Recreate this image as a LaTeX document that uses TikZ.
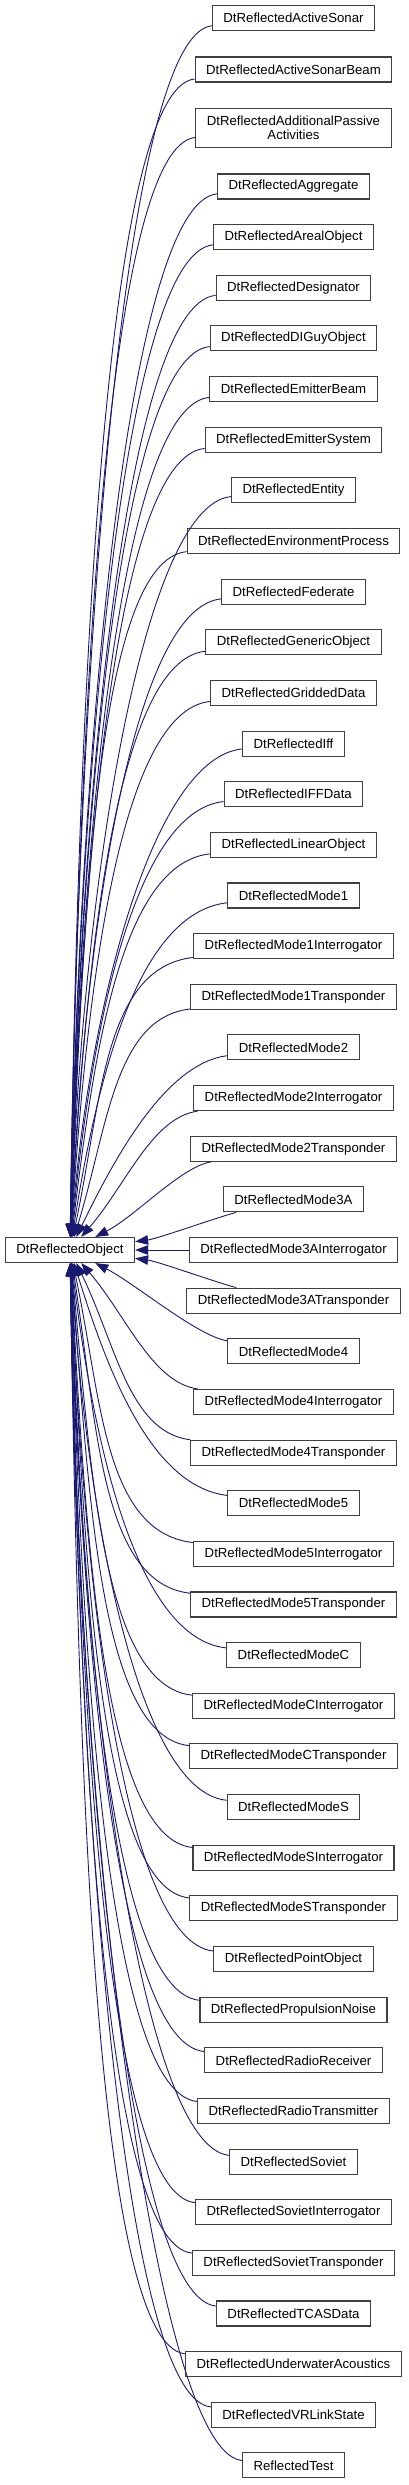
\documentclass[tikz,border=0pt]{standalone}
\usepackage{fontspec}
\setmainfont{Liberation Sans}
\usetikzlibrary{arrows.meta, calc}
\definecolor{edgeblue}{HTML}{191970}
\definecolor{boxgray}{HTML}{404040}

\begin{document}
\begin{tikzpicture}[x=1pt, y=1pt, font=\fontsize{13.2}{14.5}\selectfont,
		classbox/.style={draw=boxgray, line width=1.1pt, fill=white, inner xsep=11pt, inner ysep=4pt, minimum height=25pt, align=center},
		inherit/.style={draw=edgeblue, line width=0.9pt, {Triangle[length=13pt,width=9.5pt]}-}]
	\useasboundingbox (0,0) rectangle (408,-2485);

	\node at (70,-1250) [classbox] (reflObject) {DtReflectedObject};

	\node at (293.5,-18) [classbox] (activeSonar) {DtReflectedActiveSonar};
	\node at (293.5,-69.5) [classbox] (activeSonarBeam) {DtReflectedActiveSonarBeam};
	\node at (293.5,-128) [classbox, minimum height=39pt] (additionalPassive) {DtReflectedAdditionalPassive\\Activities};
	\node at (293.5,-186.5) [classbox] (aggregate) {DtReflectedAggregate};
	\node at (293.5,-237.1) [classbox] (arealObject) {DtReflectedArealObject};
	\node at (293.5,-287.8) [classbox] (designator) {DtReflectedDesignator};
	\node at (293.5,-338.4) [classbox] (diGuyObject) {DtReflectedDIGuyObject};
	\node at (293.5,-389.1) [classbox] (emitterBeam) {DtReflectedEmitterBeam};
	\node at (293.5,-439.7) [classbox] (emitterSystem) {DtReflectedEmitterSystem};
	\node at (293.5,-490.4) [classbox] (entity) {DtReflectedEntity};
	\node at (293.5,-541.0) [classbox] (environmentProcess) {DtReflectedEnvironmentProcess};
	\node at (293.5,-591.6) [classbox] (federate) {DtReflectedFederate};
	\node at (293.5,-642.3) [classbox] (genericObject) {DtReflectedGenericObject};
	\node at (293.5,-692.9) [classbox] (griddedData) {DtReflectedGriddedData};
	\node at (293.5,-743.6) [classbox] (iff) {DtReflectedIff};
	\node at (293.5,-794.2) [classbox] (iffData) {DtReflectedIFFData};
	\node at (293.5,-844.9) [classbox] (linearObject) {DtReflectedLinearObject};
	\node at (293.5,-895.5) [classbox] (mode1) {DtReflectedMode1};
	\node at (293.5,-946.1) [classbox] (mode1Interrogator) {DtReflectedMode1Interrogator};
	\node at (293.5,-996.8) [classbox] (mode1Transponder) {DtReflectedMode1Transponder};
	\node at (293.5,-1047.4) [classbox] (mode2) {DtReflectedMode2};
	\node at (293.5,-1098.1) [classbox] (mode2Interrogator) {DtReflectedMode2Interrogator};
	\node at (293.5,-1148.7) [classbox] (mode2Transponder) {DtReflectedMode2Transponder};
	\node at (293.5,-1199.4) [classbox] (mode3A) {DtReflectedMode3A};
	\node at (293.5,-1250) [classbox] (mode3AInterrogator) {DtReflectedMode3AInterrogator};
	\node at (293.5,-1300.6) [classbox] (mode3ATransponder) {DtReflectedMode3ATransponder};
	\node at (293.5,-1351.3) [classbox] (mode4) {DtReflectedMode4};
	\node at (293.5,-1401.9) [classbox] (mode4Interrogator) {DtReflectedMode4Interrogator};
	\node at (293.5,-1452.6) [classbox] (mode4Transponder) {DtReflectedMode4Transponder};
	\node at (293.5,-1503.2) [classbox] (mode5) {DtReflectedMode5};
	\node at (293.5,-1553.9) [classbox] (mode5Interrogator) {DtReflectedMode5Interrogator};
	\node at (293.5,-1604.5) [classbox] (mode5Transponder) {DtReflectedMode5Transponder};
	\node at (293.5,-1655.1) [classbox] (modeC) {DtReflectedModeC};
	\node at (293.5,-1705.8) [classbox] (modeCInterrogator) {DtReflectedModeCInterrogator};
	\node at (293.5,-1756.4) [classbox] (modeCTransponder) {DtReflectedModeCTransponder};
	\node at (293.5,-1807.1) [classbox] (modeS) {DtReflectedModeS};
	\node at (293.5,-1857.7) [classbox] (modeSInterrogator) {DtReflectedModeSInterrogator};
	\node at (293.5,-1908.4) [classbox] (modeSTransponder) {DtReflectedModeSTransponder};
	\node at (293.5,-1959.0) [classbox] (pointObject) {DtReflectedPointObject};
	\node at (293.5,-2009.6) [classbox] (propulsionNoise) {DtReflectedPropulsionNoise};
	\node at (293.5,-2060.3) [classbox] (radioReceiver) {DtReflectedRadioReceiver};
	\node at (293.5,-2110.9) [classbox] (radioTransmitter) {DtReflectedRadioTransmitter};
	\node at (293.5,-2161.6) [classbox] (soviet) {DtReflectedSoviet};
	\node at (293.5,-2212.2) [classbox] (sovietInterrogator) {DtReflectedSovietInterrogator};
	\node at (293.5,-2262.9) [classbox] (sovietTransponder) {DtReflectedSovietTransponder};
	\node at (293.5,-2313.5) [classbox] (tcasData) {DtReflectedTCASData};
	\node at (293.5,-2364.2) [classbox] (underwaterAcoustics) {DtReflectedUnderwaterAcoustics};
	\node at (293.5,-2414.8) [classbox] (vrLinkState) {DtReflectedVRLinkState};
	\node at (293.5,-2465.4) [classbox] (reflectedTest) {ReflectedTest};

	\foreach \child in {activeSonar, activeSonarBeam, additionalPassive, aggregate, arealObject,
			designator, diGuyObject, emitterBeam, emitterSystem, entity, environmentProcess,
			federate, genericObject, griddedData, iff, iffData, linearObject,
			mode1, mode1Interrogator, mode1Transponder, mode2, mode2Interrogator, mode2Transponder,
			mode3A, mode3ATransponder, mode4, mode4Interrogator, mode4Transponder,
			mode5, mode5Interrogator, mode5Transponder, modeC, modeCInterrogator, modeCTransponder,
			modeS, modeSInterrogator, modeSTransponder, pointObject, propulsionNoise,
			radioReceiver, radioTransmitter, soviet, sovietInterrogator, sovietTransponder,
			tcasData, underwaterAcoustics, vrLinkState, reflectedTest}
		\draw[inherit] let \p1=(reflObject.center), \p2=(\child.center),
				\p3=(reflObject.north east), \p4=(\child.north west),
				\n1={\y2-\y1}, \n2={abs(\n1)}, \n3={0.09+7/\n2}, \n4={min(90,0.3*\n2)},
				\n5={min(\x2-\x4,(\y4-\y2)/\n3)+\n4}, \n6={(141/\n2)^2}, \n7={sqrt(1+\n6*\n6)},
				\n8={min((\y3-\y1)*\n7,(\x3-\x1)*\n7/\n6)+0.45*\n2}, \n9={sign(\n1)}
			in (reflObject) .. controls ({\x1+\n8*\n6/\n7},{\y1+\n9*\n8/\n7})
				and ({\x2-\n5},{\y2-\n9*\n3*\n5}) .. (\child);
	\draw[inherit] (reflObject) -- (mode3AInterrogator);
\end{tikzpicture}
\end{document}
